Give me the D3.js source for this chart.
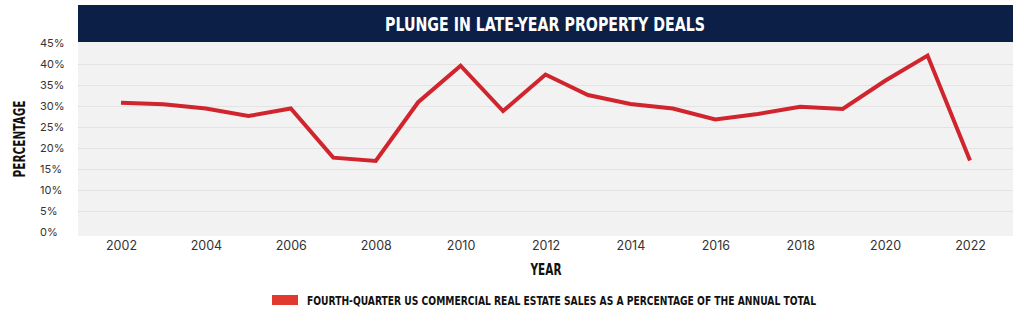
<!DOCTYPE html>
<html>
<head>
<meta charset="utf-8">
<script src="https://cdn.jsdelivr.net/npm/d3@7"></script>
<style>
  html, body { margin: 0; padding: 0; background: #ffffff; }
  svg { display: block; }
</style>
</head>
<body>
<svg id="chart" width="1024" height="324"></svg>
<script>
// ---- data ----
const years = [2002, 2003, 2004, 2005, 2006, 2007, 2008, 2009, 2010, 2011, 2012,
               2013, 2014, 2015, 2016, 2017, 2018, 2019, 2020, 2021, 2022];
const shares = [30.8, 30.4, 29.4, 27.6, 29.4, 17.7, 16.9, 30.9, 39.6, 28.8, 37.5,
                32.6, 30.5, 29.4, 26.8, 28.1, 29.8, 29.3, 36.0, 42.0, 17.0];
const xTicks = [2002, 2004, 2006, 2008, 2010, 2012, 2014, 2016, 2018, 2020, 2022];
const yTicks = [0, 5, 10, 15, 20, 25, 30, 35, 40, 45];
const titleText = "PLUNGE IN LATE-YEAR PROPERTY DEALS";
const xTitle = "YEAR";
const yTitle = "PERCENTAGE";
const legendText = "FOURTH-QUARTER US COMMERCIAL REAL ESTATE SALES AS A PERCENTAGE OF THE ANNUAL TOTAL";

// ---- layout ----
const svg = d3.select("#chart");
const condensed = "'Liberation Sans Narrow', 'DejaVu Sans Condensed', 'Roboto', sans-serif";
const tickFont = "'Inter', 'Lato', 'Open Sans', sans-serif";

const x = d3.scaleLinear().domain([2002, 2022]).range([121, 970]);
const y = d3.scaleLinear().domain([0, 45]).range([232, 43]);

// plot background
svg.append("rect")
  .attr("x", 78).attr("y", 42).attr("width", 935).attr("height", 194)
  .attr("fill", "#f2f2f2");

// gridlines
const grid = svg.append("g").attr("transform", "translate(78,0)")
  .call(d3.axisLeft(y).tickValues(yTicks.filter(v => v > 0 && v < 45)).tickSize(-935).tickFormat(""));
grid.select(".domain").remove();
grid.selectAll("line").attr("stroke", "#e3e3e3").attr("stroke-width", 1);

// title bar
svg.append("rect")
  .attr("x", 78).attr("y", 5).attr("width", 935).attr("height", 37)
  .attr("fill", "#0c1f46");
svg.append("text")
  .attr("x", 545).attr("y", 24)
  .attr("text-anchor", "middle").attr("dominant-baseline", "central")
  .attr("fill", "#ffffff")
  .attr("font-family", condensed).attr("font-weight", "bold").attr("font-size", 19)
  .attr("textLength", 320).attr("lengthAdjust", "spacingAndGlyphs")
  .text(titleText);

// y axis labels
const yAxis = svg.append("g").attr("transform", "translate(40,0)")
  .call(d3.axisLeft(y).tickValues(yTicks).tickSize(0).tickFormat(d => d + "%"));
yAxis.select(".domain").remove();
yAxis.selectAll("text")
  .attr("x", 0).attr("dy", "0.35em")
  .attr("text-anchor", "start")
  .attr("fill", "#333")
  .attr("font-family", tickFont).attr("font-size", 11);

// x axis labels
const xAxis = svg.append("g").attr("transform", "translate(0,236)")
  .call(d3.axisBottom(x).tickValues(xTicks).tickSize(0).tickFormat(d3.format("d")));
xAxis.select(".domain").remove();
xAxis.selectAll("text")
  .attr("y", 10).attr("dy", "0.35em")
  .attr("fill", "#333")
  .attr("font-family", tickFont).attr("font-size", 12.5);

// axis titles
svg.append("text")
  .attr("x", 546).attr("y", 270)
  .attr("text-anchor", "middle").attr("dominant-baseline", "central")
  .attr("fill", "#111")
  .attr("font-family", condensed).attr("font-weight", "bold").attr("font-size", 15)
  .attr("textLength", 31).attr("lengthAdjust", "spacingAndGlyphs")
  .text(xTitle);
svg.append("text")
  .attr("transform", "translate(20,139) rotate(-90)")
  .attr("text-anchor", "middle").attr("dominant-baseline", "central")
  .attr("fill", "#111")
  .attr("font-family", condensed).attr("font-weight", "bold").attr("font-size", 15)
  .attr("textLength", 77).attr("lengthAdjust", "spacingAndGlyphs")
  .text(yTitle);

// line
const data = years.map((yr, i) => ({ year: yr, value: shares[i] }));
svg.append("path")
  .datum(data)
  .attr("fill", "none")
  .attr("stroke", "#d0252d")
  .attr("stroke-width", 4)
  .attr("stroke-linejoin", "miter")
  .attr("d", d3.line().x(d => x(d.year)).y(d => y(d.value)));

// legend
svg.append("rect")
  .attr("x", 272).attr("y", 295).attr("width", 26).attr("height", 10)
  .attr("fill", "#e03a2e");
svg.append("text")
  .attr("x", 307).attr("y", 300)
  .attr("dominant-baseline", "central")
  .attr("fill", "#111")
  .attr("font-family", condensed).attr("font-weight", "bold").attr("font-size", 12.5)
  .attr("textLength", 509).attr("lengthAdjust", "spacingAndGlyphs")
  .text(legendText);
</script>
</body>
</html>
